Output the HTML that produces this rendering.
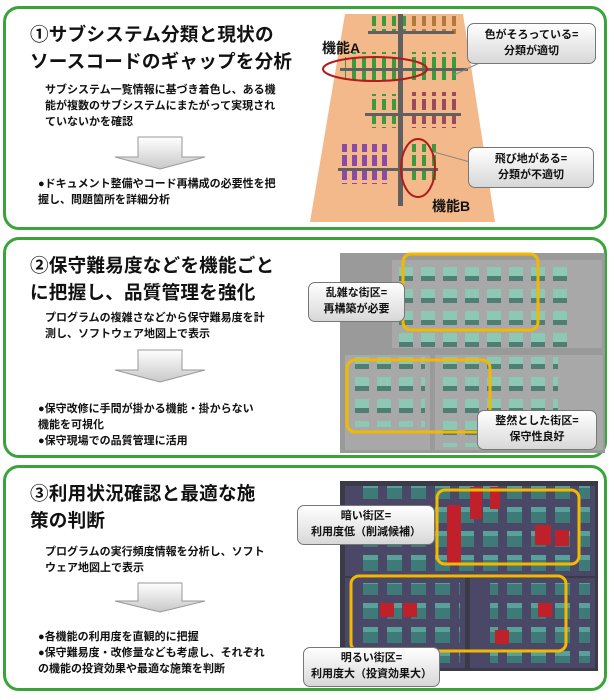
<!DOCTYPE html>
<html><head><meta charset="utf-8">
<style>
body{margin:0;width:614px;height:700px;background:#fff;position:relative;overflow:hidden;font-family:"Liberation Sans","Noto Sans CJK JP",sans-serif;}
.panel{position:absolute;left:3px;width:604px;border:3px solid #3aa33a;border-radius:16px;background:#fff;box-sizing:border-box;}
.t{position:absolute;font-weight:bold;color:#111;white-space:nowrap;}
.title{font-size:18.6px;line-height:27px;letter-spacing:0.2px;}
.body{font-size:11px;line-height:16px;}
svg{position:absolute;left:0;top:0;}
.call{position:absolute;font-size:11px;font-weight:bold;text-align:center;line-height:16px;border:1px solid #777;border-radius:7px;background:linear-gradient(#fff,#d8d8d8);color:#111;}
</style></head><body>
<div class="panel" style="top:6px;height:224px"></div>
<div class="panel" style="top:237px;height:221px"></div>
<div class="panel" style="top:465px;height:226px"></div>

<svg width="614" height="700">
<defs>
<linearGradient id="ag" x1="0" y1="0" x2="0" y2="1"><stop offset="0" stop-color="#fff"/><stop offset="1" stop-color="#c8c8c8"/></linearGradient>
<pattern id="bg" width="10" height="14" patternUnits="userSpaceOnUse"><rect x="2" y="1" width="4" height="11" fill="#3c9a3c"/></pattern>
<pattern id="bo" width="10" height="14" patternUnits="userSpaceOnUse"><rect x="2" y="1" width="4" height="11" fill="#b07a3a"/></pattern>
<pattern id="bp" width="10" height="14" patternUnits="userSpaceOnUse"><rect x="2" y="1" width="5" height="11" fill="#8a4aa8"/></pattern>
<pattern id="bm" width="10" height="14" patternUnits="userSpaceOnUse"><rect x="2" y="1" width="4" height="11" fill="#9a4a5a"/></pattern>
<pattern id="cb" width="22" height="22" patternUnits="userSpaceOnUse"><rect x="3" y="3" width="14" height="14" fill="#8cc8b4"/><rect x="3" y="12" width="14" height="5" fill="#4f7f72"/></pattern>
<pattern id="cd" width="24" height="24" patternUnits="userSpaceOnUse"><rect x="3" y="3" width="15" height="16" fill="#3e7a78"/><rect x="3" y="3" width="15" height="5" fill="#5aa09a"/></pattern>
</defs>
<g fill="url(#ag)" stroke="#999" stroke-width="1">
<path d="M138,137 H182 V157 H205 L160,169 L115,157 H138 Z"/>
<path d="M138,350 H182 V370 H205 L160,382 L115,370 H138 Z"/>
<path d="M138,583 H182 V601 H205 L160,612 L115,601 H138 Z"/>
</g>
<polygon points="345,14 463,14 495,222 310,222" fill="#f3b98a"/>
<rect x="368" y="16" width="38" height="18" fill="url(#bg)"/>
<rect x="408" y="16" width="48" height="18" fill="url(#bo)"/>
<rect x="345" y="52" width="55" height="28" fill="url(#bg)"/>
<rect x="408" y="52" width="50" height="28" fill="url(#bg)"/>
<rect x="368" y="94" width="30" height="34" fill="url(#bg)"/>
<rect x="408" y="92" width="50" height="36" fill="url(#bm)"/>
<rect x="342" y="144" width="50" height="40" fill="url(#bp)"/>
<rect x="410" y="144" width="28" height="36" fill="url(#bg)"/>
<g fill="#606060">
<rect x="398" y="14" width="5" height="192"/>
<rect x="368" y="31" width="86" height="3"/>
<rect x="340" y="68" width="128" height="3"/>
<rect x="365" y="113" width="96" height="3"/>
<rect x="338" y="168" width="100" height="3"/>
</g>
<ellipse cx="375" cy="69" rx="52" ry="12" fill="none" stroke="#b01c1c" stroke-width="2"/>
<ellipse cx="418" cy="168" rx="17" ry="29" fill="none" stroke="#b01c1c" stroke-width="2"/>
<line x1="454" y1="75" x2="490" y2="58" stroke="#888"/>
<line x1="434" y1="152" x2="470" y2="162" stroke="#888"/>
<rect x="340" y="253" width="265" height="200" fill="#9a9a9a"/>
<rect x="392" y="260" width="210" height="88" fill="#a8a8a8"/>
<rect x="345" y="355" width="85" height="95" fill="#a8a8a8"/>
<rect x="435" y="355" width="168" height="95" fill="#a8a8a8"/>
<rect x="396" y="262" width="176" height="90" fill="url(#cb)"/>
<rect x="350" y="357" width="75" height="70" fill="url(#cb)"/>
<rect x="438" y="357" width="120" height="90" fill="url(#cb)"/>
<rect x="403" y="254" width="135" height="76" rx="8" fill="none" stroke="#f5b800" stroke-width="3"/>
<rect x="347" y="360" width="143" height="72" rx="8" fill="none" stroke="#f5b800" stroke-width="3"/>
<rect x="340" y="481" width="258" height="190" fill="#3a3a48"/>
<rect x="345" y="486" width="250" height="90" fill="#4a4866"/>
<rect x="345" y="578" width="120" height="90" fill="#4a4866"/>
<rect x="470" y="578" width="125" height="90" fill="#4a4866"/>
<rect x="360" y="486" width="230" height="90" fill="url(#cd)"/>
<rect x="355" y="583" width="105" height="80" fill="url(#cd)"/>
<rect x="490" y="583" width="100" height="80" fill="url(#cd)"/>
<g fill="#c0202a"><rect x="447" y="505" width="14" height="60"/><rect x="470" y="487" width="12" height="32"/><rect x="490" y="487" width="10" height="22"/><rect x="535" y="525" width="16" height="20"/><rect x="555" y="530" width="14" height="16"/><rect x="380" y="603" width="14" height="14"/><rect x="403" y="603" width="14" height="14"/><rect x="538" y="603" width="14" height="14"/><rect x="495" y="630" width="14" height="14"/></g>
<rect x="437" y="490" width="142" height="74" rx="8" fill="none" stroke="#f5b800" stroke-width="3"/>
<rect x="351" y="576" width="215" height="75" rx="8" fill="none" stroke="#f5b800" stroke-width="3"/>
</svg>

<div class="t title" style="left:30px;top:21px">①サブシステム分類と現状の<br>ソースコードのギャップを分析</div>
<div class="t body" style="left:45px;top:82px">サブシステム一覧情報に基づき着色し、ある機<br>能が複数のサブシステムにまたがって実現され<br>ていないかを確認</div>
<div class="t body" style="left:38px;top:176px">●ドキュメント整備やコード再構成の必要性を把<br>握し、問題箇所を詳細分析</div>
<div class="t" style="left:322px;top:38px;font-size:14px">機能A</div>
<div class="t" style="left:432px;top:196px;font-size:14px">機能B</div>
<div class="call" style="left:467px;top:23px;width:127px;height:36px;padding-top:3px">色がそろっている=<br>分類が適切</div>
<div class="call" style="left:468px;top:147px;width:124px;height:36px;padding-top:3px">飛び地がある=<br>分類が不適切</div>

<div class="t title" style="left:30px;top:252px">②保守難易度などを機能ごと<br>に把握し、品質管理を強化</div>
<div class="t body" style="left:45px;top:310px">プログラムの複雑さなどから保守難易度を計<br>測し、ソフトウェア地図上で表示</div>
<div class="t body" style="left:38px;top:401px">●保守改修に手間が掛かる機能・掛からない<br>機能を可視化<br>●保守現場での品質管理に活用</div>
<div class="call" style="left:308px;top:282px;width:95px;height:36px;padding-top:2px">乱雑な街区=<br>再構築が必要</div>
<div class="call" style="left:477px;top:410px;width:118px;height:36px;padding-top:2px">整然とした街区=<br>保守性良好</div>

<div class="t title" style="left:30px;top:480px">③利用状況確認と最適な施<br>策の判断</div>
<div class="t body" style="left:45px;top:544px">プログラムの実行頻度情報を分析し、ソフト<br>ウェア地図上で表示</div>
<div class="t body" style="left:38px;top:629px">●各機能の利用度を直観的に把握<br>●保守難易度・改修量なども考慮し、それぞれ<br>の機能の投資効果や最適な施策を判断</div>
<div class="call" style="left:297px;top:505px;width:136px;height:36px;padding-top:2px">暗い街区=<br>利用度低（削減候補）</div>
<div class="call" style="left:303px;top:647px;width:135px;height:36px;padding-top:2px">明るい街区=<br>利用度大（投資効果大）</div>
</body></html>
